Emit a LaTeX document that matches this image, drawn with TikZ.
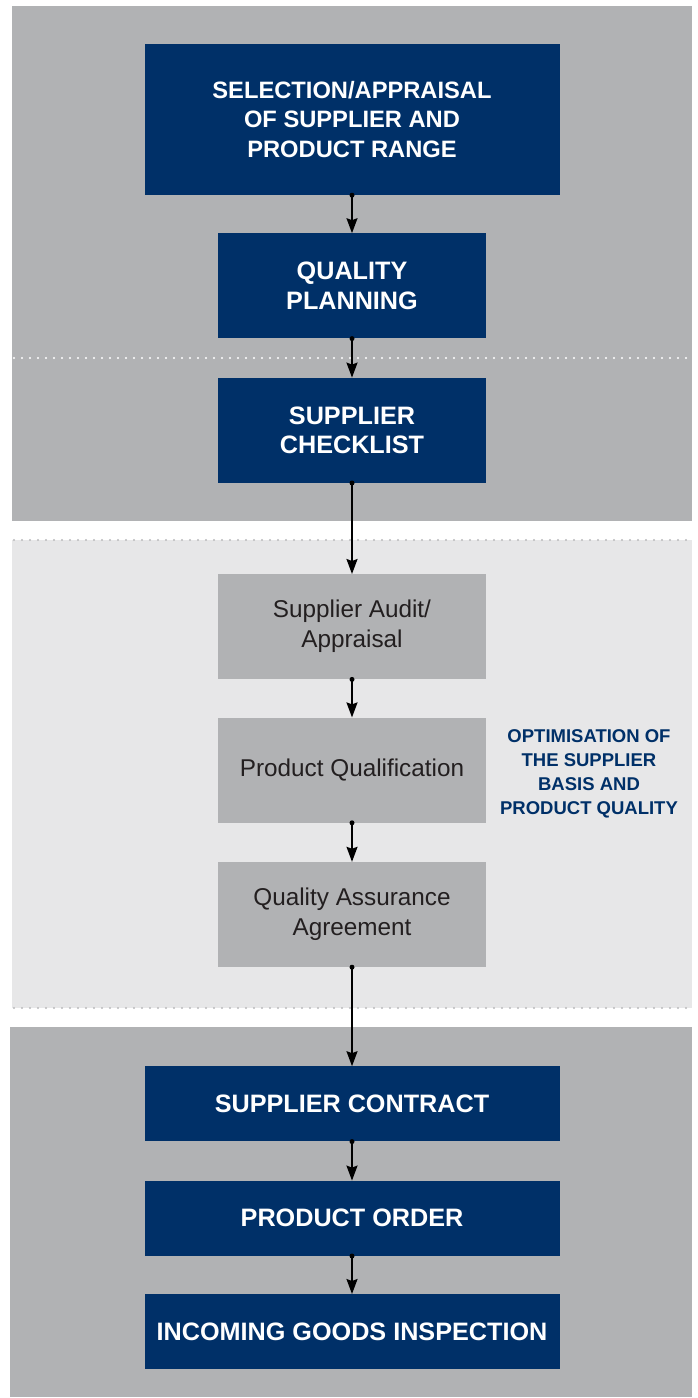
\documentclass[tikz,border=0pt]{standalone}
\usepackage{fontspec}
\setmainfont{Liberation Sans}
\usetikzlibrary{positioning,arrows.meta}
\definecolor{navy}{RGB}{0,48,104}
\definecolor{bgdark}{RGB}{177,178,180}
\definecolor{bglight}{RGB}{231,231,232}
\definecolor{dotgray}{RGB}{186,186,188}
\definecolor{textdark}{RGB}{35,31,32}
\begin{document}
\begin{tikzpicture}[x=1pt, y=-1pt, line join=round, >={Stealth[length=15pt,width=11pt,inset=2pt]},
	bluebox/.style={fill=navy, text=white, font=\fontsize{25.2}{29.5}\selectfont\bfseries, align=center, inner sep=0pt},
	graybox/.style={fill=bgdark, text=textdark, font=\fontsize{24.3}{30}\selectfont, align=center, inner sep=0pt, minimum width=268pt, minimum height=105pt},
	flow/.style={->, line width=1.8pt, shorten <=-2pt},
	dotline/.style={line width=2.2pt, line cap=round, dash pattern=on 0pt off 8pt}]
	\useasboundingbox (0,0) rectangle (698,1398);
	% hintergrund
	\fill[bgdark] (12,6) rectangle (692,521);
	\fill[bglight] (12,540) rectangle (692,1008);
	\fill[bgdark] (10,1027) rectangle (692,1397);
	\draw[dotline, white] (14,358) -- (692,358);
	\draw[dotline, dotgray] (14,540) -- (692,540);
	\draw[dotline, dotgray] (14,1008) -- (692,1008);
	% kasten
	\node[bluebox, font=\fontsize{23.7}{29.5}\selectfont\bfseries, minimum width=415pt, minimum height=151pt] (select) at (352,119.5) {SELECTION/APPRAISAL\\OF SUPPLIER AND\\PRODUCT RANGE};
	\node[bluebox, minimum width=268pt, minimum height=105pt, below=38pt of select] (plan) {QUALITY\\PLANNING};
	\node[bluebox, minimum width=268pt, minimum height=105pt, below=39pt of plan] (check) {SUPPLIER\\CHECKLIST};
	\node[graybox, below=91pt of check] (audit) {Supplier Audit/\\Appraisal};
	\node[graybox, below=38pt of audit] (qualif) {Product Qualification};
	\node[graybox, below=39pt of qualif] (qaa) {Quality Assurance\\Agreement};
	\node[bluebox, minimum width=415pt, minimum height=75pt, below=99pt of qaa] (contract) {SUPPLIER CONTRACT};
	\node[bluebox, minimum width=415pt, minimum height=75pt, below=39pt of contract] (order) {PRODUCT ORDER};
	\node[bluebox, minimum width=415pt, minimum height=75pt, below=38pt of order] (incoming) {INCOMING GOODS INSPECTION};
	\node[text=navy, font=\fontsize{18.5}{24}\selectfont\bfseries, align=center] (optim) at (589,774) {OPTIMISATION OF\\THE SUPPLIER\\BASIS AND\\PRODUCT QUALITY};
	% pfeile
	\foreach \a/\b in {select/plan, plan/check, check/audit, audit/qualif, qualif/qaa, qaa/contract, contract/order, order/incoming}{
		\fill (\a.south) circle (2.5pt);
		\draw[flow] (\a.south) -- (\b.north);
	}
\end{tikzpicture}
\end{document}
